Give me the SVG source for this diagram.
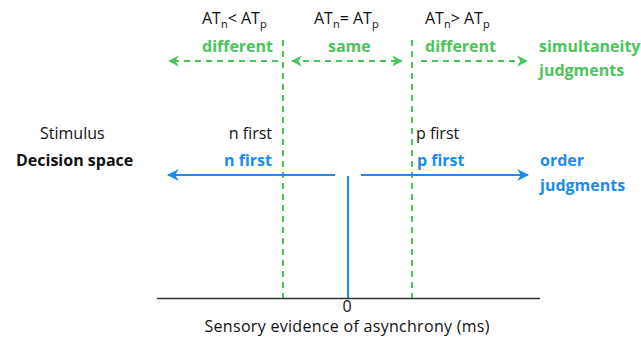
<svg xmlns="http://www.w3.org/2000/svg" width="641" height="337" viewBox="0 0 641 337">
<style>
text{font-family:"Open Sans","Liberation Sans",sans-serif;font-size:16px;fill:#111}
.g{fill:#4cc45c;font-weight:bold}
.b{fill:#1a8cf0;font-weight:bold}
.k{font-weight:bold}
.gd{stroke:#4cc45c;stroke-width:2;stroke-dasharray:6,5;fill:none}
.bl{stroke:#1a8cf0;stroke-width:2;fill:none}
</style>
<defs>
<marker id="ga" viewBox="0 0 10 10" refX="9" refY="5" markerWidth="11" markerHeight="11" markerUnits="userSpaceOnUse" orient="auto-start-reverse"><path d="M0,0 L10,5 L0,10 L3,5 Z" fill="#4cc45c"/></marker>
<marker id="ba" viewBox="0 0 10 10" refX="9" refY="5" markerWidth="12" markerHeight="12" markerUnits="userSpaceOnUse" orient="auto-start-reverse"><path d="M0,0 L10,5 L0,10 L3,5 Z" fill="#1a8cf0"/></marker>
</defs>
<g id="connectors">
<line class="gd" x1="283" y1="40" x2="283" y2="298"/>
<line class="gd" x1="412" y1="40" x2="412" y2="298"/>
<line class="gd" x1="278" y1="61" x2="169" y2="61" marker-end="url(#ga)"/>
<line class="gd" x1="292" y1="61" x2="402" y2="61" marker-start="url(#ga)" marker-end="url(#ga)"/>
<line class="gd" x1="421" y1="61" x2="527" y2="61" marker-end="url(#ga)"/>
<line class="bl" x1="335" y1="175" x2="168" y2="175" marker-end="url(#ba)"/>
<line class="bl" x1="361" y1="175" x2="528" y2="175" marker-end="url(#ba)"/>
<line class="bl" x1="348" y1="176" x2="348" y2="298"/>
<line x1="157" y1="298.5" x2="540" y2="298.5" stroke="#333" stroke-width="1.5"/>
</g>
<g id="top-labels">
<text x="202" y="24">AT<tspan font-size="11" dy="4">n</tspan><tspan dy="-4">&lt; AT</tspan><tspan font-size="11" dy="4">p</tspan></text>
<text x="314" y="24">AT<tspan font-size="11" dy="4">n</tspan><tspan dy="-4">= AT</tspan><tspan font-size="11" dy="4">p</tspan></text>
<text x="425" y="24">AT<tspan font-size="11" dy="4">n</tspan><tspan dy="-4">&gt; AT</tspan><tspan font-size="11" dy="4">p</tspan></text>
</g>
<g id="sj">
<text class="g" x="202" y="52">different</text>
<text class="g" x="328" y="52">same</text>
<text class="g" x="425" y="52">different</text>
<text class="g" x="539" y="52">simultaneity</text>
<text class="g" x="539" y="76">judgments</text>
</g>
<g id="rows">
<text x="40" y="139">Stimulus</text>
<text class="k" x="16" y="166">Decision space</text>
<text x="272" y="139" text-anchor="end">n first</text>
<text class="b" x="272" y="166" text-anchor="end">n first</text>
<text x="416" y="139">p first</text>
<text class="b" x="417" y="166">p first</text>
<text class="b" x="540" y="166">order</text>
<text class="b" x="540" y="191">judgments</text>
</g>
<g id="axis">
<text x="347" y="311.5" text-anchor="middle" font-size="11">0</text>
<text x="347" y="331.5" text-anchor="middle" font-size="16" textLength="285" lengthAdjust="spacing">Sensory evidence of asynchrony (ms)</text>
</g>
</svg>
